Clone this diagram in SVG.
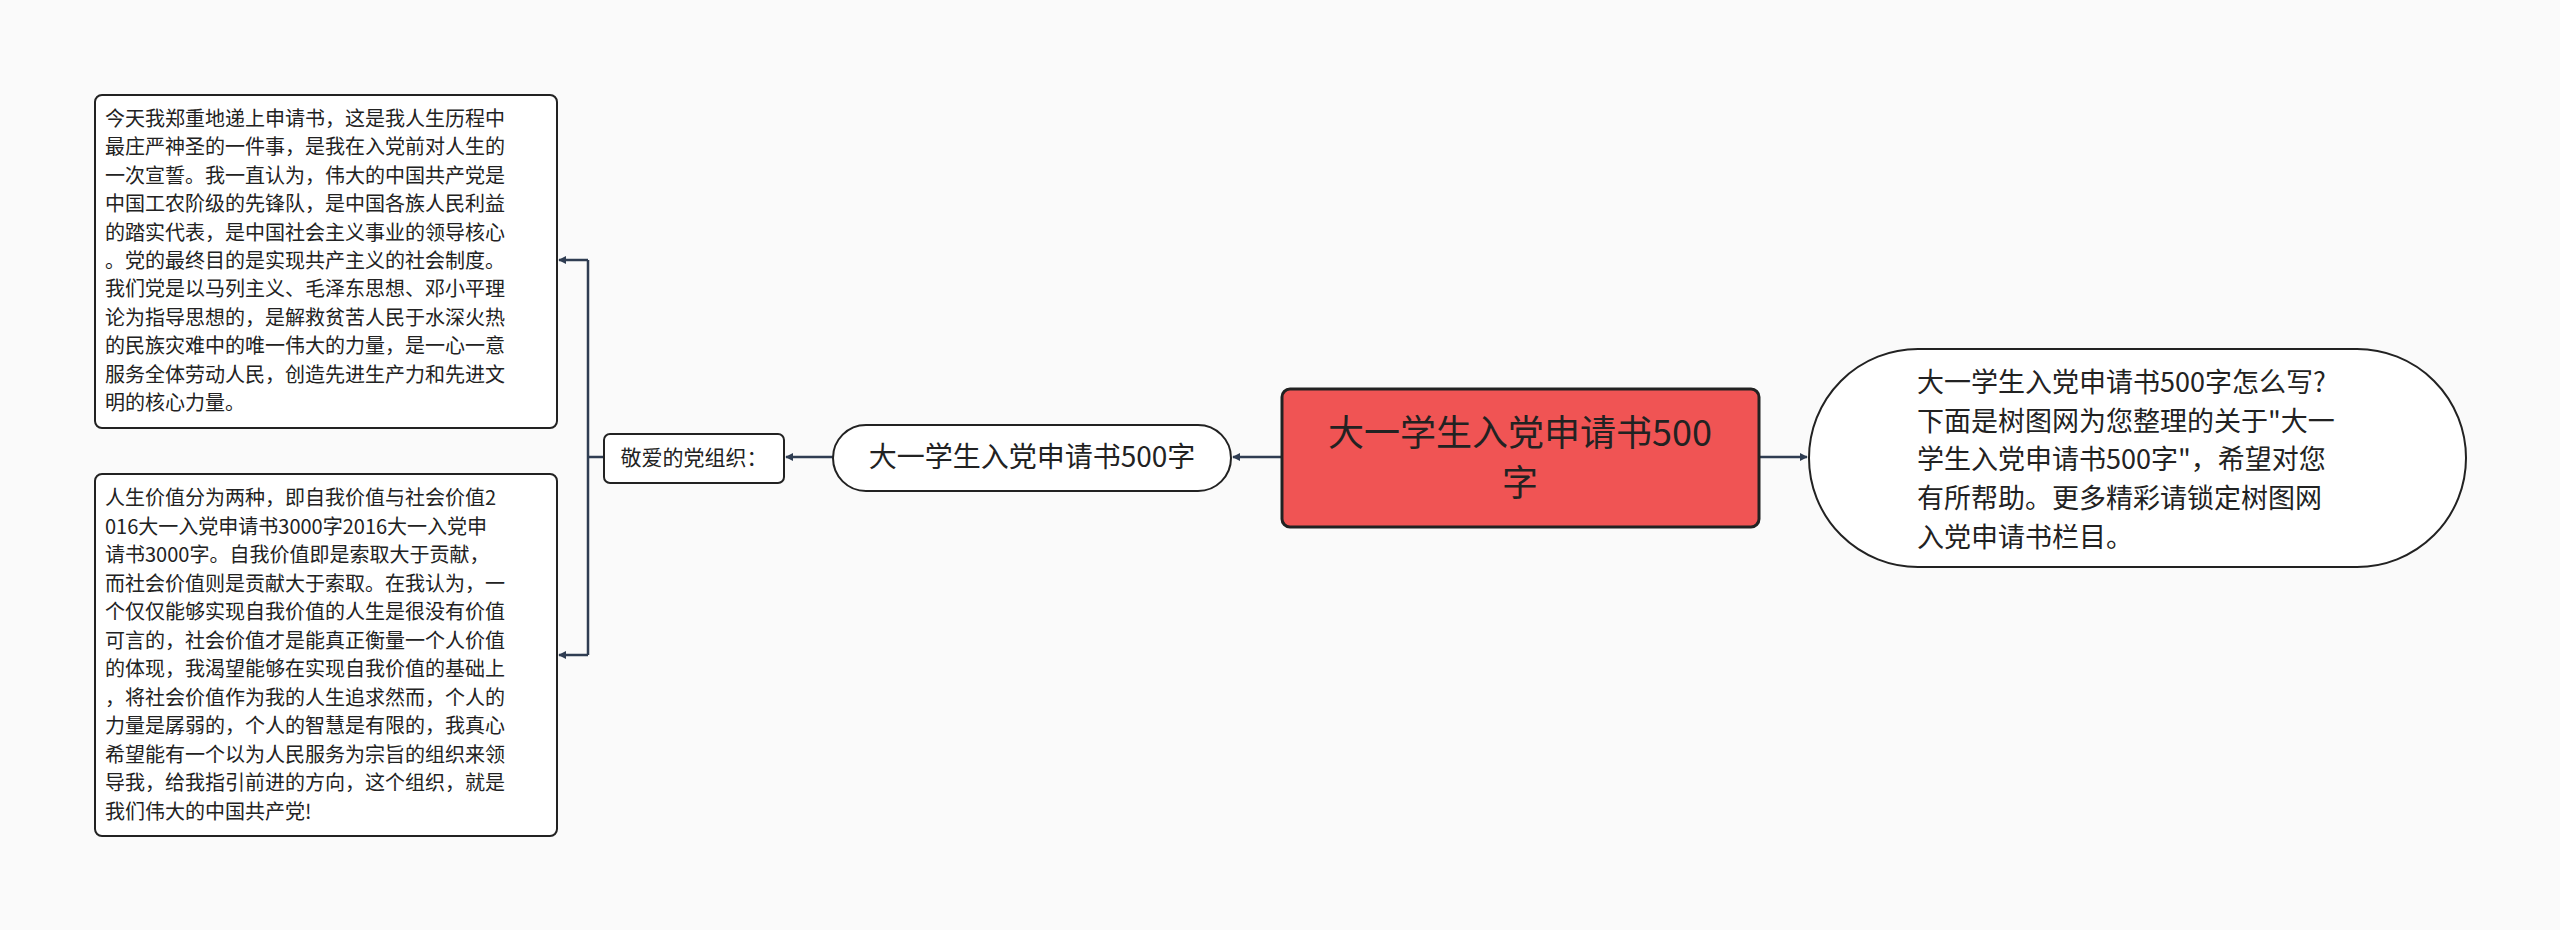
<svg xmlns="http://www.w3.org/2000/svg" width="2560" height="930" viewBox="0 0 2560 930">
<defs>
<marker id="ar" viewBox="0 0 10 10" refX="9" refY="5" markerWidth="8" markerHeight="8" orient="auto" markerUnits="userSpaceOnUse"><path d="M0,0 L10,5 L0,10 z" fill="#2f3d52"/></marker>
<style>
text{font-family:"Noto Sans CJK SC","Liberation Sans",sans-serif;fill:#222}
.c{fill:none;stroke:#2f3d52;stroke-width:2.5}
.box{fill:#fff;stroke:#222;stroke-width:2}
.small{font-size:20px}
</style>
</defs>
<rect width="2560" height="930" fill="#fafafa"/>
<g id="connectors">
<path class="c" d="M1282,457 L1233,457" marker-end="url(#ar)"/>
<path class="c" d="M1759,457 L1807,457" marker-end="url(#ar)"/>
<path class="c" d="M833,457 L786,457" marker-end="url(#ar)"/>
<path class="c" d="M604,457 L588,457 M588,260 L588,655"/>
<path class="c" d="M588,260 L559,260" marker-end="url(#ar)"/>
<path class="c" d="M588,655 L559,655" marker-end="url(#ar)"/>
</g>
<g id="center">
<rect x="1282" y="389" width="477" height="138" rx="8" fill="#f05454" stroke="#222" stroke-width="3"/>
<text x="1520" y="446" font-size="36" text-anchor="middle" fill="#333">大一学生入党申请书500</text>
<text x="1520" y="496" font-size="36" text-anchor="middle" fill="#333">字</text>
</g>
<g id="right">
<rect x="1809" y="349" width="657" height="218" rx="109" class="box" stroke-width="3"/>
<text font-size="27"><tspan x="1917" y="392">大一学生入党申请书500字怎么写?</tspan><tspan x="1917" y="431">下面是树图网为您整理的关于"大一</tspan><tspan x="1917" y="469">学生入党申请书500字"，希望对您</tspan><tspan x="1917" y="508">有所帮助。更多精彩请锁定树图网</tspan><tspan x="1917" y="547">入党申请书栏目。</tspan></text>
</g>
<g id="left">
<rect x="833" y="425" width="398" height="66" rx="33" class="box" stroke-width="3"/>
<text x="1032" y="467" font-size="28" text-anchor="middle">大一学生入党申请书500字</text>
</g>
<g id="greet">
<rect x="604" y="434" width="180" height="49" rx="6" class="box" stroke-width="1.5"/>
<text x="694" y="465" font-size="21" text-anchor="middle">敬爱的党组织：</text>
</g>
<g id="para1">
<rect x="95" y="95" width="462" height="333" rx="7" class="box" stroke-width="1.5"/>
<text class="small"><tspan x="105" y="126">今天我郑重地递上申请书，这是我人生历程中</tspan><tspan x="105" y="154.4">最庄严神圣的一件事，是我在入党前对人生的</tspan><tspan x="105" y="182.8">一次宣誓。我一直认为，伟大的中国共产党是</tspan><tspan x="105" y="211.2">中国工农阶级的先锋队，是中国各族人民利益</tspan><tspan x="105" y="239.6">的踏实代表，是中国社会主义事业的领导核心</tspan><tspan x="105" y="268">。党的最终目的是实现共产主义的社会制度。</tspan><tspan x="105" y="296.4">我们党是以马列主义、毛泽东思想、邓小平理</tspan><tspan x="105" y="324.8">论为指导思想的，是解救贫苦人民于水深火热</tspan><tspan x="105" y="353.2">的民族灾难中的唯一伟大的力量，是一心一意</tspan><tspan x="105" y="381.6">服务全体劳动人民，创造先进生产力和先进文</tspan><tspan x="105" y="410">明的核心力量。</tspan></text>
</g>
<g id="para2">
<rect x="95" y="474" width="462" height="362" rx="7" class="box" stroke-width="1.5"/>
<text class="small"><tspan x="105" y="505">人生价值分为两种，即自我价值与社会价值2</tspan><tspan x="105" y="533.5">016大一入党申请书3000字2016大一入党申</tspan><tspan x="105" y="562">请书3000字。自我价值即是索取大于贡献，</tspan><tspan x="105" y="590.5">而社会价值则是贡献大于索取。在我认为，一</tspan><tspan x="105" y="619">个仅仅能够实现自我价值的人生是很没有价值</tspan><tspan x="105" y="647.5">可言的，社会价值才是能真正衡量一个人价值</tspan><tspan x="105" y="676">的体现，我渴望能够在实现自我价值的基础上</tspan><tspan x="105" y="704.5">，将社会价值作为我的人生追求然而，个人的</tspan><tspan x="105" y="733">力量是孱弱的，个人的智慧是有限的，我真心</tspan><tspan x="105" y="761.5">希望能有一个以为人民服务为宗旨的组织来领</tspan><tspan x="105" y="790">导我，给我指引前进的方向，这个组织，就是</tspan><tspan x="105" y="818.5">我们伟大的中国共产党!</tspan></text>
</g>
</svg>
